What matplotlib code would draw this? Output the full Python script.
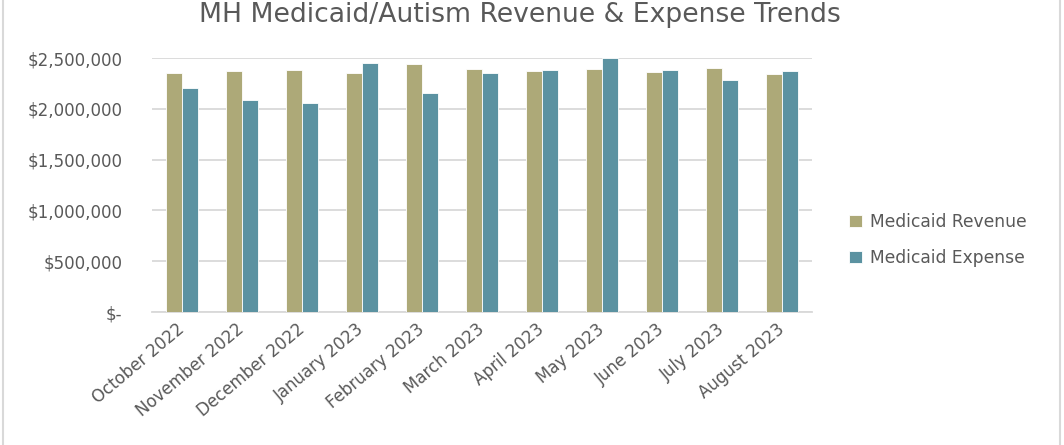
import matplotlib
matplotlib.use("Agg")
import matplotlib.pyplot as plt
import numpy as np
from matplotlib.patches import Rectangle
from matplotlib.ticker import FuncFormatter

months = ["October 2022", "November 2022", "December 2022", "January 2023",
          "February 2023", "March 2023", "April 2023", "May 2023",
          "June 2023", "July 2023", "August 2023"]
revenue = [2356000, 2373000, 2382000, 2356000, 2441000, 2392000,
           2373000, 2392000, 2363000, 2402000, 2343000]
expense = [2206000, 2088000, 2059000, 2451000, 2157000, 2356000,
           2382000, 2500000, 2382000, 2284000, 2373000]

rev_color = "#ADA978"
exp_color = "#5B92A1"
text_color = "#595959"

plt.rcParams['font.family'] = ['DejaVu Sans']

fig = plt.figure(figsize=(10.64, 4.45), dpi=100)
ax = fig.add_axes([152 / 1064, 1 - 312 / 445, (812 - 152) / 1064, (312 - 58) / 445])

x = np.arange(len(months))
w = 0.265
ax.bar(x - w / 2, revenue, w, color=rev_color, edgecolor="white", linewidth=0.6,
       label="Medicaid Revenue", zorder=3)
ax.bar(x + w / 2, expense, w, color=exp_color, edgecolor="white", linewidth=0.6,
       label="Medicaid Expense", zorder=3)

ax.set_xlim(-0.5, len(months) - 0.5)
ax.set_ylim(0, 2500000)
ax.set_yticks(np.arange(0, 2500001, 500000))


def money(v, pos):
    if v == 0:
        return "$-"
    return "${:,.0f}".format(v)


ax.yaxis.set_major_formatter(FuncFormatter(money))
ax.grid(axis="y", color="#D9D9D9", linewidth=1.3, zorder=0)
for s in ["top", "right", "left"]:
    ax.spines[s].set_visible(False)
ax.spines["bottom"].set_color("#D9D9D9")
ax.spines["bottom"].set_linewidth(1.3)
ax.tick_params(axis="both", length=0, colors=text_color, labelsize=12)
ax.tick_params(axis="y", pad=21.5)
ax.set_xticks(x)
ax.set_xticklabels(months, rotation=40, ha="right", va="center",
                   rotation_mode="anchor")
ax.tick_params(axis="x", pad=11)

fig.text(0.489, 1 - 22 / 445, "MH Medicaid/Autism Revenue & Expense Trends",
         ha="center", va="baseline", fontsize=19.2, color=text_color)

leg = ax.legend(loc="center left", frameon=False, fontsize=12.3,
                labelcolor=text_color, handlelength=0.75, handleheight=0.75,
                handletextpad=0.5, labelspacing=1.05, borderpad=0,
                borderaxespad=0)
leg.set_bbox_to_anchor((849 / 1064, 1 - 240 / 445), transform=fig.transFigure)

fig.patches.append(Rectangle((3 / 1064, -0.01), (1060 - 3) / 1064, 1.1,
                             transform=fig.transFigure, fill=False,
                             edgecolor="#D9D9D9", linewidth=1.5))

fig.savefig("out.png", dpi=100)
